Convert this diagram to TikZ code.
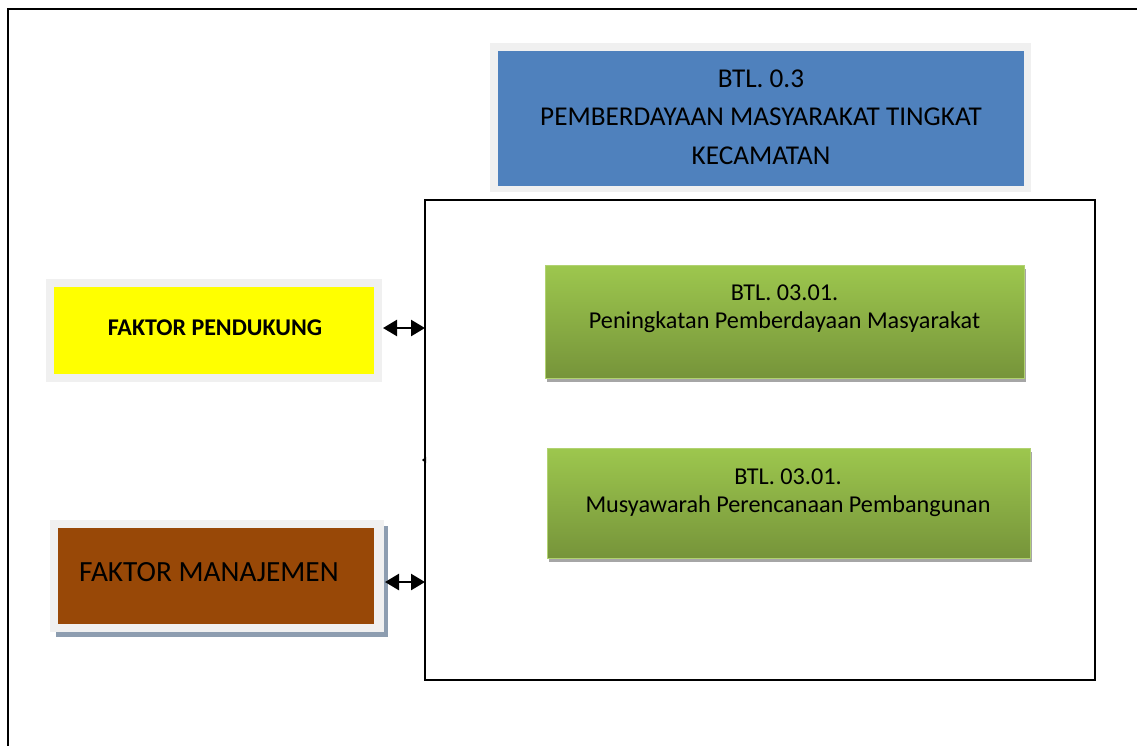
\documentclass[tikz,border=0pt]{standalone}
\usepackage{fontspec}
\setmainfont{Carlito}
\usetikzlibrary{arrows.meta,shadows}
\definecolor{frameGrey}{HTML}{F0F0F0}
\definecolor{titleBlue}{HTML}{4F81BD}
\definecolor{greenTop}{HTML}{9DC74E}
\definecolor{greenBot}{HTML}{76943A}
\definecolor{brownFill}{HTML}{984807}
\definecolor{shadowGrey}{HTML}{A6A6A6}
\definecolor{shadowBlue}{HTML}{8D9DB0}
\definecolor{pureYellow}{HTML}{FFFF00}
\tikzset{
  x=1pt, y=-1pt,
  box/.style={rectangle, inner sep=0pt, outer sep=0pt, anchor=north west},
  greybg/.style={box, fill=frameGrey},
  greenbox/.style={box, top color=greenTop, bottom color=greenBot, draw=greenTop!80!white, line width=0.8pt,
     drop shadow={shadow xshift=2pt, shadow yshift=-4pt, fill=shadowGrey, opacity=1}},
  frameline/.style={line width=2pt, draw=black},
  link/.style={line width=2.5pt, {Triangle[length=14pt,width=16pt]}-{Triangle[length=14pt,width=16pt]}},
  txt/.style={inner sep=0pt, align=center, text=black},
}
\begin{document}
\begin{tikzpicture}
\useasboundingbox (0,0) rectangle (1137,745);
\clip (0,0) rectangle (1137,745);
% outer frame
\coordinate (fa) at (8,760);
\coordinate (fb) at (8,9);
\coordinate (fc) at (1150,9);
\draw[frameline] (fa) -- (fb) -- (fc);
% title
\node[greybg, minimum width=541pt, minimum height=149pt] (titlebg) at (490,43) {};
\node[box, fill=titleBlue, minimum width=526pt, minimum height=135pt] (title) at (498,51) {};
\node[txt, font=\fontsize{27.2}{38.5}\selectfont] (titletxt) at (761,117) {BTL. 0.3\\PEMBERDAYAAN MASYARAKAT TINGKAT\\KECAMATAN};
% inner box
\node[box, frameline, minimum width=670pt, minimum height=480pt] (inner) at (425,200) {};
% green boxes
\node[greenbox, minimum width=479pt, minimum height=113pt] (g1) at (545,265) {};
\node[txt, font=\fontsize{24.2}{28}\selectfont] (g1txt) at (784.5,309) {BTL. 03.01.\\Peningkatan Pemberdayaan Masyarakat};
\node[greenbox, minimum width=483pt, minimum height=110pt] (g2) at (547,448) {};
\node[txt, font=\fontsize{24.2}{28}\selectfont] (g2txt) at (788,493) {BTL. 03.01.\\Musyawarah Perencanaan Pembangunan};
% yellow
\node[greybg, minimum width=336pt, minimum height=103pt] (ybg) at (46,279) {};
\node[box, fill=pureYellow, minimum width=320pt, minimum height=87pt] (yb) at (54,287) {};
\node[txt, font=\fontsize{24}{28}\bfseries] (ytxt) at (215,328) {FAKTOR PENDUKUNG};
% brown
\fill[shadowBlue] (56,526) rectangle (388,637);
\node[greybg, minimum width=334pt, minimum height=112pt] (bbg) at (50,520) {};
\node[box, fill=brownFill, minimum width=316pt, minimum height=96pt] (bb) at (58,528) {};
\node[txt, font=\fontsize{29.3}{34}\selectfont, anchor=west] (btxt) at (79,572) {FAKTOR MANAJEMEN};
% arrows
\coordinate (a1) at (383,328);
\coordinate (a2) at (385,582);
\draw[link] (a1) -- (a1 -| inner.west);
\draw[link] (a2) -- (a2 -| inner.west);
\coordinate (tk) at (425,460);
\draw[line width=1pt, -{Triangle[length=4pt,width=6pt]}] (tk) -- ++(-3,0);
\end{tikzpicture}
\end{document}
